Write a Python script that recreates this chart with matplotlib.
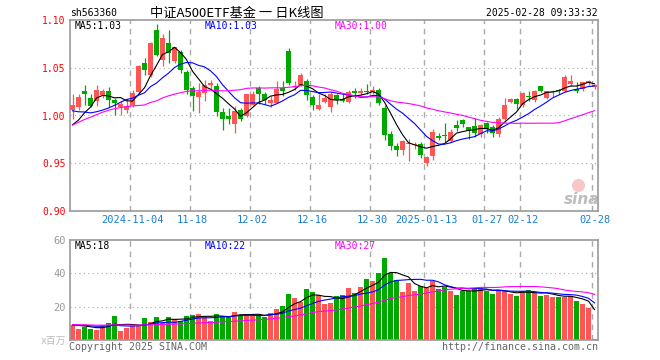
import matplotlib
matplotlib.use('Agg')
import matplotlib.pyplot as plt
import numpy as np
import pandas as pd

plt.rcParams['font.family'] = ['DejaVu Sans Mono', 'Noto Sans CJK SC']

# ---------------------------------------------------------------- data
# daily candles 2024-10-21 .. 2025-02-28 (88 trading days)
open_ = [1.0056, 1.009, 1.0253, 1.0184, 1.015, 1.0219, 1.0253, 1.0167, 1.009, 1.006,
         1.0115, 1.0243, 1.0549, 1.0427, 1.0896, 1.0583, 1.0757, 1.0566, 1.067, 1.046,
         1.029, 1.019, 1.024, 1.032, 1.031, 1.0035, 1.000, 0.9906, 1.006, 0.9993,
         1.0115, 1.029, 1.022, 1.013, 1.013, 1.029, 1.068, 1.030, 1.032, 1.0365,
         1.0194, 1.007, 1.014, 1.009, 1.021, 1.0174, 1.014, 1.0253, 1.0236, 1.026,
         1.0243, 1.027, 1.008, 0.981, 0.9685, 0.9643, 0.970, 0.969, 0.9698, 0.9505,
         0.9575, 0.9784, 0.9787, 0.9735, 0.990, 0.9955, 0.9878, 0.9895, 0.981, 0.9923,
         0.9878, 0.981, 0.9965, 1.014, 1.0174, 1.0105, 1.0202, 1.0167, 1.0307, 1.018,
         1.0244, 1.026, 1.0261, 1.0331, 1.0279, 1.0279, 1.034, 1.0296]
high = [1.023, 1.022, 1.032, 1.022, 1.032, 1.028, 1.030, 1.018, 1.015, 1.017,
        1.027, 1.053, 1.060, 1.077, 1.0955, 1.085, 1.090, 1.072, 1.069, 1.048,
        1.031, 1.034, 1.037, 1.037, 1.034, 1.008, 1.008, 1.010, 1.008, 1.023,
        1.026, 1.031, 1.025, 1.020, 1.036, 1.036, 1.0705, 1.036, 1.044, 1.038,
        1.021, 1.023, 1.022, 1.025, 1.023, 1.022, 1.027, 1.029, 1.029, 1.033,
        1.031, 1.029, 1.0115, 0.9836, 0.971, 0.974, 0.975, 0.972, 0.972, 0.958,
        0.986, 0.982, 0.992, 0.986, 0.9948, 0.9965, 0.988, 0.997, 0.991, 0.993,
        0.990, 0.998, 1.018, 1.018, 1.018, 1.025, 1.026, 1.027, 1.031, 1.026,
        1.027, 1.028, 1.042, 1.0425, 1.035, 1.0355, 1.0376, 1.0335]
low = [0.996, 1.006, 1.0115, 1.009, 1.010, 1.018, 1.009, 1.000, 1.000, 1.003,
       1.009, 1.022, 1.0427, 1.040, 1.062, 1.052, 1.055, 1.055, 1.045, 1.022,
       1.005, 1.003, 1.015, 1.027, 0.9995, 0.985, 0.991, 0.982, 0.994, 0.998,
       1.011, 1.012, 1.012, 1.009, 1.013, 1.020, 1.032, 1.027, 1.031, 1.0167,
       1.006, 1.006, 1.013, 1.0035, 1.0125, 1.014, 1.013, 1.018, 1.021, 1.022,
       1.023, 1.0115, 0.974, 0.964, 0.958, 0.959, 0.952, 0.965, 0.955, 0.947,
       0.953, 0.974, 0.972, 0.972, 0.984, 0.988, 0.9756, 0.978, 0.978, 0.982,
       0.977, 0.977, 0.995, 1.013, 1.007, 1.0087, 1.0157, 1.014, 1.0244, 1.017,
       1.019, 1.0226, 1.0244, 1.031, 1.024, 1.026, 1.032, 1.028]
close = [1.0115, 1.0194, 1.0229, 1.0104, 1.027, 1.0253, 1.0167, 1.0132, 1.012, 1.010,
         1.0236, 1.0514, 1.048, 1.0757, 1.0635, 1.081, 1.065, 1.072, 1.048, 1.027,
         1.020, 1.025, 1.032, 1.034, 1.0035, 0.996, 0.996, 1.0045, 0.996, 1.022,
         1.023, 1.023, 1.0167, 1.0167, 1.028, 1.026, 1.034, 1.031, 1.0427, 1.021,
         1.0115, 1.0115, 1.0184, 1.022, 1.0167, 1.0156, 1.025, 1.0236, 1.0253, 1.0243,
         1.027, 1.013, 0.980, 0.9685, 0.9643, 0.9738, 0.9706, 0.9695, 0.9583, 0.9564,
         0.983, 0.9767, 0.9784, 0.983, 0.9868, 0.9906, 0.9833, 0.9819, 0.990, 0.9854,
         0.982, 0.9965, 1.0105, 1.0174, 1.012, 1.024, 1.019, 1.026, 1.026, 1.026,
         1.0258, 1.0258, 1.040, 1.0366, 1.026, 1.0348, 1.0366, 1.032]
# volume, millions
volume = [9.2, 6.8, 8.0, 6.8, 6.2, 9.2, 10.3, 14.6, 5.6, 7.4,
          8.6, 8.8, 13.3, 11.0, 13.9, 10.4, 13.9, 12.7, 11.5, 14.6,
          15.2, 15.8, 13.9, 11.5, 15.8, 14.6, 13.9, 17.0, 14.6, 15.8,
          15.2, 14.6, 13.9, 16.4, 18.7, 20.5, 27.7, 25.3, 22.8, 30.7,
          28.7, 27.1, 21.6, 22.2, 26.5, 27.1, 31.3, 28.3, 31.9, 36.8,
          35.6, 40.4, 49.5, 40.4, 36.2, 28.9, 34.3, 29.5, 32.5, 31.3,
          35.6, 30.7, 31.9, 29.5, 27.1, 29.5, 29.5, 31.3, 31.3, 29.5,
          27.7, 30.1, 29.5, 27.7, 26.5, 29.5, 30.1, 28.3, 26.5, 27.1,
          25.9, 25.9, 25.9, 26.5, 23.4, 21.6, 19.2, 0.6]
# closes / volumes of the days before the window (only feed the moving averages)
pre_close = [0.93, 0.935, 0.94, 0.945, 0.95, 0.955, 0.965, 0.975, 0.98, 1.00,
             1.04, 1.03, 1.00, 1.01, 0.99, 1.00, 1.02, 1.00, 0.99, 0.993,
             1.03, 1.025, 1.02, 1.015, 1.008, 0.995, 0.985, 0.98, 0.98]
pre_vol = [8.5, 9.2, 10.1, 8.8, 9.5, 8.9, 9.6, 10.3, 8.7, 9.1,
           9.4, 8.6, 9.8, 9.0, 8.8, 9.3, 10.0, 9.2, 8.9, 9.5,
           9.1, 8.7, 9.6, 9.3, 8.8, 9.0, 9.4, 9.2, 8.9]

tick_pos = [10, 20, 30, 40, 50, 59, 69, 75, 87]
tick_labels = ['2024-11-04', '11-18', '12-02', '12-16', '12-30',
               '2025-01-13', '01-27', '02-12', '02-28']

price_ma_text = ['MA5:1.03', 'MA10:1.03', 'MA30:1.00']
vol_ma_text = ['MA5:18', 'MA10:22', 'MA30:27']

#! ----------------------------------------------------------------
RED = '#ff5555'
GREEN = '#00a800'
GRID = '#aaaaaa'
FRAME = '#999999'
ma_colors = ['black', '#0000ff', '#ff00ff']

o = np.array(open_)
h = np.array(high)
l = np.array(low)
c = np.array(close)
v = np.array(volume)
x = np.arange(len(c))
colors = [RED if c[i] >= o[i] else GREEN for i in range(len(c))]

npre = len(pre_close)
all_c = pd.Series(np.concatenate([pre_close, c]))
all_v = pd.Series(np.concatenate([pre_vol, v]))
price_ma = [all_c.rolling(n).mean().values[npre:] for n in (5, 10, 30)]
vol_ma = [all_v.rolling(n).mean().values[npre:] for n in (5, 10, 30)]

W, H = 660, 360
fig = plt.figure(figsize=(6.6, 3.6), dpi=100)
fig.patch.set_facecolor('white')

ax1 = fig.add_axes([70 / W, 1 - 211 / H, 528 / W, 191 / H])
ax2 = fig.add_axes([70 / W, 1 - 340 / H, 528 / W, 100 / H])

xl = (-2.5 / 6, 87 + 3.5 / 6)
for ax in (ax1, ax2):
    ax.set_xlim(*xl)
    for s in ax.spines.values():
        s.set_color(FRAME)
        s.set_linewidth(1.2)
    ax.tick_params(length=0)
    for p in tick_pos:
        ax.axvline(p - 0.35, color=GRID, lw=1.0, ls=(0, (4, 3.5)), zorder=0)

# price panel
ax1.set_ylim(0.90, 1.10)
for yv in (0.95, 1.00, 1.05):
    ax1.axhline(yv, color=GRID, lw=0.8, ls=(0, (1, 3)), zorder=0)
ax1.vlines(x, l, h, colors=colors, lw=0.9, zorder=2)
body = np.maximum(np.abs(c - o), 0.0011)
ax1.bar(x, body, bottom=np.minimum(o, c), width=0.8, color=colors, lw=0, zorder=3)
for ma, col in zip(price_ma, ma_colors):
    ax1.plot(x, ma, color=col, lw=0.8, zorder=4)
ax1.set_yticks([0.90, 0.95, 1.00, 1.05, 1.10])
ax1.set_yticklabels(['0.90', '0.95', '1.00', '1.05', '1.10'], color='red', fontsize=7)
ax1.set_xticks(tick_pos)
ax1.set_xticklabels(tick_labels, color='#1a7fd5', fontsize=7.5)
ax1.tick_params(axis='x', pad=3)
ax1.tick_params(axis='y', pad=3)
for txt, col, xp in zip(price_ma_text, ma_colors, (75, 205, 335)):
    fig.text(xp / W, 1 - 26 / H, txt, color=col, fontsize=7, va='center', ha='left')

# sina watermark
ax1.text(0.968, 0.06, 'sina', transform=ax1.transAxes, color='#bdbdbd', fontsize=11,
         fontweight='bold', style='italic', ha='center', va='center',
         family='DejaVu Sans', zorder=1)
ax1.scatter([0.962], [0.135], s=90, transform=ax1.transAxes, color='#f4b0b0',
            alpha=0.7, lw=0, zorder=1)

# volume panel
ax2.set_ylim(0, 60)
for yv in (20, 40):
    ax2.axhline(yv, color=GRID, lw=0.8, ls=(0, (1, 3)), zorder=0)
ax2.bar(x, v, width=0.8, color=colors, lw=0, zorder=2)
for ma, col in zip(vol_ma, ma_colors):
    ax2.plot(x, ma, color=col, lw=0.8, zorder=4)
ax2.set_xticks([])
ax2.set_yticks([20, 40, 60])
ax2.set_yticklabels(['20', '40', '60'], color='#999999', fontsize=7.5)
ax2.tick_params(axis='y', pad=3)
for txt, col, xp in zip(vol_ma_text, ma_colors, (75, 205, 335)):
    fig.text(xp / W, 1 - 246 / H, txt, color=col, fontsize=7, va='center', ha='left')
fig.text(66 / W, 1 - 341 / H, 'x百万', color='#bbbbbb', fontsize=7, ha='right', va='center')

# header / footer
fig.text(70 / W, 1 - 13 / H, 'sh563360', color='black', fontsize=7, va='center')
fig.text(150 / W, 1 - 13 / H, '中证A500ETF基金 一 日K线图', color='black', fontsize=9.5,
         va='center', family=['Noto Sans CJK SC', 'DejaVu Sans'])
fig.text(598 / W, 1 - 13 / H, '2025-02-28 09:33:32', color='black', fontsize=7,
         va='center', ha='right')
fig.text(69 / W, 1 - 347 / H, 'Copyright 2025 SINA.COM', color='#666666', fontsize=7.2,
         va='center')
fig.text(598 / W, 1 - 347 / H, 'http://finance.sina.com.cn', color='#666666', fontsize=7.2,
         va='center', ha='right')

plt.savefig('out.png', dpi=100)
plt.close()
